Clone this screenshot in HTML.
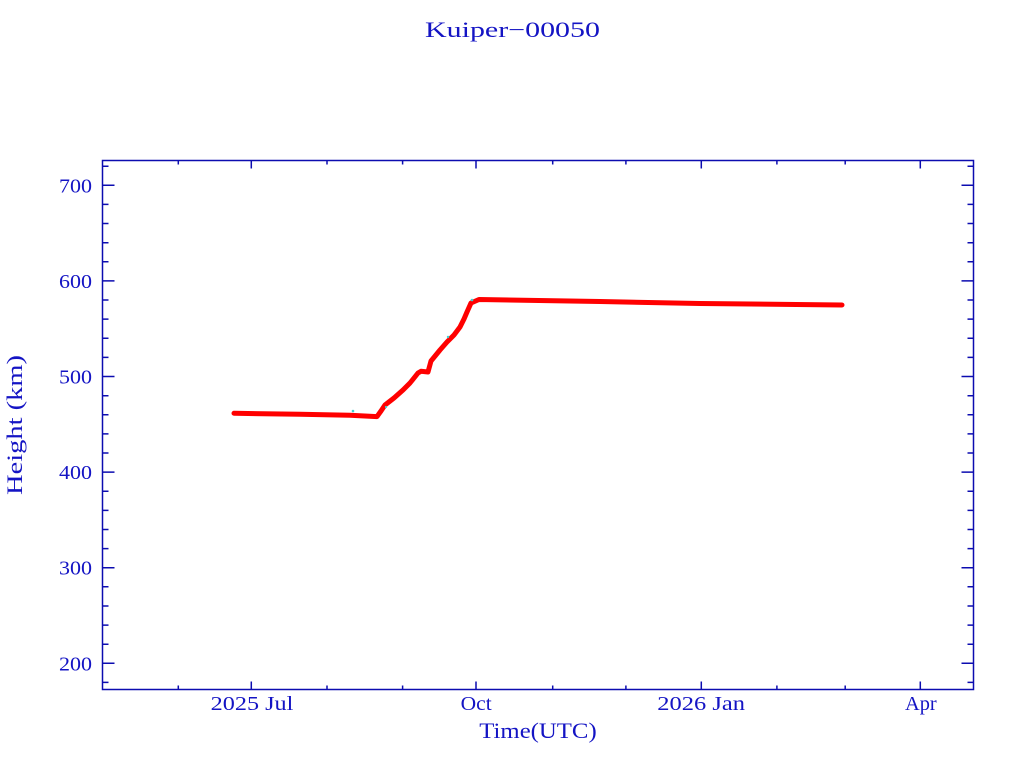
<!DOCTYPE html>
<html><head><meta charset="utf-8"><style>
html,body{margin:0;padding:0;background:#fff;}
svg{display:block;}
text{font-family:"Liberation Serif",serif;fill:#1414c4;}
</style></head><body>
<svg width="1024" height="768" viewBox="0 0 1024 768" xmlns="http://www.w3.org/2000/svg">
<rect width="1024" height="768" fill="#fff"/>
<text x="425" y="37" font-size="22" textLength="175" lengthAdjust="spacingAndGlyphs">Kuiper−00050</text>
<g stroke="#0c0cb0" stroke-width="1.5" fill="none">
<rect x="102.5" y="160.5" width="871" height="529"/>
<!-- y major ticks -->
<path d="M102.5 185.3h12M102.5 280.9h12M102.5 376.5h12M102.5 472.1h12M102.5 567.7h12M102.5 663.3h12"/>
<path d="M973.5 185.3h-12M973.5 280.9h-12M973.5 376.5h-12M973.5 472.1h-12M973.5 567.7h-12M973.5 663.3h-12"/>
<!-- y minor ticks -->
<path d="M102.5 166.2h6M102.5 204.4h6M102.5 223.5h6M102.5 242.7h6M102.5 261.8h6M102.5 300h6M102.5 319.1h6M102.5 338.3h6M102.5 357.4h6M102.5 395.7h6M102.5 414.8h6M102.5 433.9h6M102.5 453h6M102.5 491.3h6M102.5 510.4h6M102.5 529.5h6M102.5 548.6h6M102.5 586.8h6M102.5 606h6M102.5 625.1h6M102.5 644.2h6M102.5 682.4h6"/>
<path d="M973.5 166.2h-6M973.5 204.4h-6M973.5 223.5h-6M973.5 242.7h-6M973.5 261.8h-6M973.5 300h-6M973.5 319.1h-6M973.5 338.3h-6M973.5 357.4h-6M973.5 395.7h-6M973.5 414.8h-6M973.5 433.9h-6M973.5 453h-6M973.5 491.3h-6M973.5 510.4h-6M973.5 529.5h-6M973.5 548.6h-6M973.5 586.8h-6M973.5 606h-6M973.5 625.1h-6M973.5 644.2h-6M973.5 682.4h-6"/>
<!-- x major ticks -->
<path d="M251.3 689.5v-8M476 689.5v-8M701.3 689.5v-8M920.3 689.5v-8"/>
<path d="M251.3 160.5v8M476 160.5v8M701.3 160.5v8M920.3 160.5v8"/>
<!-- x minor ticks -->
<path d="M178.3 689.5v-4M327 689.5v-4M402.6 689.5v-4M552.7 689.5v-4M625.9 689.5v-4M776.9 689.5v-4M845.2 689.5v-4"/>
<path d="M178.3 160.5v4M327 160.5v4M402.6 160.5v4M552.7 160.5v4M625.9 160.5v4M776.9 160.5v4M845.2 160.5v4"/>
</g>
<!-- y tick labels -->
<g font-size="20" text-anchor="end">
<text x="92" y="192.3" textLength="33" lengthAdjust="spacingAndGlyphs">700</text>
<text x="92" y="287.9" textLength="33" lengthAdjust="spacingAndGlyphs">600</text>
<text x="92" y="383.5" textLength="33" lengthAdjust="spacingAndGlyphs">500</text>
<text x="92" y="479.1" textLength="33" lengthAdjust="spacingAndGlyphs">400</text>
<text x="92" y="574.7" textLength="33" lengthAdjust="spacingAndGlyphs">300</text>
<text x="92" y="670.3" textLength="33" lengthAdjust="spacingAndGlyphs">200</text>
</g>
<!-- x tick labels -->
<g font-size="20">
<text x="210.7" y="710" textLength="82.6" lengthAdjust="spacingAndGlyphs">2025 Jul</text>
<text x="460.7" y="710" textLength="31" lengthAdjust="spacingAndGlyphs">Oct</text>
<text x="657.3" y="710" textLength="87.7" lengthAdjust="spacingAndGlyphs">2026 Jan</text>
<text x="905" y="710" textLength="31.7" lengthAdjust="spacingAndGlyphs">Apr</text>
</g>
<text x="479.3" y="738" font-size="22" textLength="117.4" lengthAdjust="spacingAndGlyphs">Time(UTC)</text>
<text transform="translate(22,495) rotate(-90)" x="0" y="0" font-size="22" textLength="140" lengthAdjust="spacingAndGlyphs">Height (km)</text>
<!-- data -->
<polyline fill="none" stroke="#ff0000" stroke-width="5" stroke-linejoin="round" stroke-linecap="round"
points="234,413.3 300,414.3 350,415.3 377,416.6 381,411 385,405 394,398 403,390 410,383 418,373 421,371.3 428,372 431,361 440,350 447,342 454,335 460,327 464,319 467,312 471,303 479,299.5 600,301.5 700,303.5 842,305"/>
<g fill="#3fd0d0">
<circle cx="353" cy="411" r="1.3"/>
<circle cx="472" cy="300" r="1.3"/>
<circle cx="448" cy="337" r="1.2"/>
<circle cx="386" cy="407" r="1.1"/>
</g>
</svg>
</body></html>
